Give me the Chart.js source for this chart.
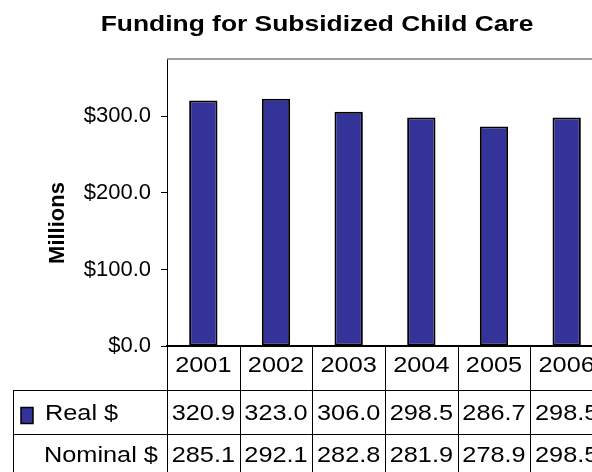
<!DOCTYPE html>
<html>
<head>
<meta charset="utf-8">
<script src="https://cdn.jsdelivr.net/npm/chart.js@4.4.1/dist/chart.umd.min.js"></script>
<style>
  html, body { margin: 0; padding: 0; background: #fff; overflow: hidden; }
  #wrap { width: 592px; height: 472px; overflow: hidden; }
</style>
</head>
<body>
<div id="wrap"><canvas id="chart" width="620" height="472"></canvas></div>
<script>
const years = ['2001', '2002', '2003', '2004', '2005', '2006'];
const realValues = [320.9, 323.0, 306.0, 298.5, 286.7, 298.5];
const nominalValues = [285.1, 292.1, 282.8, 281.9, 278.9, 298.5];
const yTicks = [0, 100, 200, 300];
const seriesNames = ['Real $', 'Nominal $'];
const chartTitle = 'Funding for Subsidized Child Care';
const axisTitle = 'Millions';

const FONT = '"Liberation Sans", Arial, Helvetica, sans-serif';
const BAR_COLOR = '#333399';
const TABLE_STRETCH = 1.15;

function line(ctx, x1, y1, x2, y2) {
    ctx.beginPath();
    ctx.moveTo(x1, y1);
    ctx.lineTo(x2, y2);
    ctx.stroke();
}

// text in the original is wider than plain Arial
function wideText(ctx, text, x, y, k) {
    ctx.save();
    ctx.translate(x, y);
    ctx.scale(k || TABLE_STRETCH, 1);
    ctx.fillText(text, 0, 0);
    ctx.restore();
}

// title, axis title and the data table under the plot
const dataTable = {
    id: 'dataTable',
    afterDraw(chart) {
        const ctx = chart.ctx;
        const x = chart.scales.x;
        const area = chart.chartArea;
        const top = area.bottom;
        const rows = [top, top + 44, top + 87.5, top + 131];
        const legendLeft = 13.5;
        const n = years.length;
        const bounds = [];
        for (let i = 0; i <= n; i++) {
            bounds.push(Math.round(x.getPixelForValue(i - 0.5)) + 0.5);
        }

        ctx.save();
        ctx.fillStyle = '#000';
        ctx.font = 'bold 22px ' + FONT;
        ctx.textAlign = 'center';
        ctx.textBaseline = 'alphabetic';
        wideText(ctx, chartTitle, 317, 31, 1.2);

        // plot frame (top / right)
        ctx.strokeStyle = '#808080';
        ctx.lineWidth = 1.5;
        line(ctx, area.left, area.top, area.right, area.top);
        line(ctx, area.right, area.top, area.right, area.bottom);

        // grid of the table
        ctx.strokeStyle = '#000';
        ctx.lineWidth = 1;
        bounds.forEach(b => line(ctx, b, top, b, rows[3]));
        line(ctx, legendLeft, rows[1], legendLeft, rows[3]);
        [1, 2, 3].forEach(r => {
            const yy = Math.round(rows[r]) + 0.5;
            line(ctx, legendLeft, yy, bounds[n], yy);
        });

        // text
        ctx.font = '22px ' + FONT;
        ctx.textAlign = 'center';
        years.forEach((yr, i) => {
            const cx = x.getPixelForValue(i);
            wideText(ctx, yr, cx, top + 26);
            wideText(ctx, realValues[i].toFixed(1), cx, top + 74.3);
            wideText(ctx, nominalValues[i].toFixed(1), cx, top + 116);
        });

        ctx.textAlign = 'left';
        wideText(ctx, seriesNames[0], 45, top + 74);
        wideText(ctx, seriesNames[1], 44, top + 116);

        // legend key for the plotted series
        ctx.fillStyle = BAR_COLOR;
        ctx.fillRect(21, top + 61.5, 12, 16);
        ctx.lineWidth = 1.5;
        ctx.strokeRect(21, top + 61.5, 12, 16);

        // y axis title
        ctx.translate(57.5, 223);
        ctx.rotate(-Math.PI / 2);
        ctx.font = 'bold 22px ' + FONT;
        ctx.textAlign = 'center';
        ctx.textBaseline = 'middle';
        ctx.fillStyle = '#000';
        ctx.fillText(axisTitle, 0, 0);
        ctx.restore();
    }
};

new Chart(document.getElementById('chart'), {
    type: 'bar',
    data: {
        labels: years,
        datasets: [{
            label: seriesNames[0],
            data: realValues,
            backgroundColor: BAR_COLOR,
            borderColor: '#000',
            borderWidth: 2,
            borderSkipped: false,
            barPercentage: 0.39,
            categoryPercentage: 1
        }]
    },
    options: {
        responsive: false,
        animation: false,
        devicePixelRatio: 1,
        layout: { padding: { left: 0, right: 17, top: 59, bottom: 126 } },
        plugins: {
            legend: { display: false },
            tooltip: { enabled: false },
            title: { display: false }
        },
        scales: {
            x: {
                offset: true,
                grid: { display: false },
                ticks: { display: false },
                border: { color: '#000', width: 2 },
                afterFit: s => { s.height = 0; }
            },
            y: {
                min: 0,
                max: 375,
                afterBuildTicks: s => { s.ticks = yTicks.map(v => ({ value: v })); },
                afterFit: s => { s.width = 167; },
                grid: { drawOnChartArea: false, tickLength: 6, color: '#000' },
                border: { color: '#000', width: 1 },
                ticks: {
                    padding: 10,
                    color: '#000',
                    font: { family: FONT, size: 22 },
                    callback: v => '$' + v.toFixed(1)
                }
            }
        }
    },
    plugins: [dataTable]
});
</script>
</body>
</html>
